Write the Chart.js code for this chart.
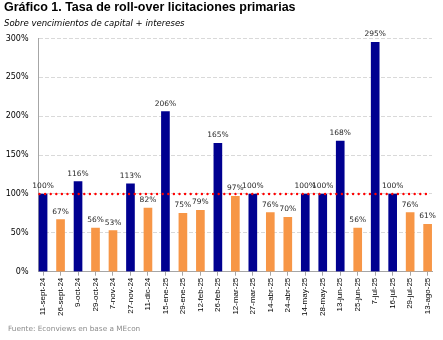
<!DOCTYPE html>
<html>
<head>
<meta charset="utf-8">
<script src="https://cdn.jsdelivr.net/npm/chart.js@4.4.1/dist/chart.umd.min.js"></script>
<style>
body{margin:0;background:#fff;}
#caja{width:443px;height:340px;position:relative;}
</style>
</head>
<body>
<div id="caja"><canvas id="rollover"></canvas></div>
<script>
// fechas de licitacion y tasa de roll-over (%)
var fechas = ["11-sept-24","26-sept-24","9-oct-24","29-oct-24","7-nov-24","27-nov-24","11-dic-24",
  "15-ene-25","29-ene-25","12-feb-25","26-feb-25","12-mar-25","27-mar-25","14-abr-25","24-abr-25",
  "14-may-25","28-may-25","13-jun-25","25-jun-25","7-jul-25","16-jul-25","29-jul-25","13-ago-25"];
var tasas = [100,67,116,56,53,113,82,206,75,79,165,97,100,76,70,100,100,168,56,295,100,76,61];
var ejeY = [0,50,100,150,200,250,300];
var umbral = 100;

var titulo = "Gráfico 1. Tasa de roll-over licitaciones primarias";
var subtitulo = "Sobre vencimientos de capital + intereses";
var fuente = "Fuente: Econviews en base a MEcon";

var azul = '#000090';
var naranja = '#f79646';
var colores = tasas.map(function(v){ return v >= umbral ? azul : naranja; });
var puntos = tasas.map(function(v, i){ return {x: i, y: v}; });

// titulo, subtitulo y fuente
var textos = {
  id: 'textos',
  afterDraw: function(chart){
    var ctx = chart.ctx;
    ctx.save();
    ctx.textAlign = 'left';
    ctx.textBaseline = 'alphabetic';
    ctx.fillStyle = '#000';
    ctx.font = 'bold 12.5px "Liberation Sans", Arial, sans-serif';
    ctx.fillText(titulo, 4, 11);
    ctx.font = 'italic 8.5px "DejaVu Sans", sans-serif';
    ctx.fillText(subtitulo, 4, 25.5);
    ctx.fillStyle = '#8c8c8c';
    ctx.font = '7.3px "DejaVu Sans", sans-serif';
    ctx.fillText(fuente, 8, 331);
    ctx.restore();
  }
};

// linea punteada roja en 100%
var linea100 = {
  id: 'linea100',
  afterDatasetsDraw: function(chart){
    var ctx = chart.ctx, x = chart.scales.x, y = chart.scales.y;
    var py = y.getPixelForValue(umbral);
    ctx.save();
    ctx.strokeStyle = '#ff0000';
    ctx.lineWidth = 2.4;
    ctx.lineCap = 'round';
    ctx.setLineDash([0, 5.6]);
    ctx.beginPath();
    ctx.moveTo(chart.chartArea.left + 1.5, py);
    ctx.lineTo(x.getPixelForValue(fechas.length - 1), py);
    ctx.stroke();
    ctx.restore();
  }
};

// valores arriba de cada barra
var etiquetas = {
  id: 'etiquetas',
  afterDatasetsDraw: function(chart){
    var ctx = chart.ctx;
    var meta = chart.getDatasetMeta(0);
    ctx.save();
    ctx.font = '7.5px "DejaVu Sans", sans-serif';
    ctx.fillStyle = '#262626';
    ctx.textAlign = 'center';
    ctx.textBaseline = 'alphabetic';
    meta.data.forEach(function(bar, i){
      ctx.fillText(tasas[i] + '%', bar.x, bar.y - 6);
    });
    ctx.restore();
  }
};

var ctx = document.getElementById('rollover').getContext('2d');
var grafico = new Chart(ctx, {
  type: 'bar',
  data: {
    datasets: [{
      data: puntos,
      backgroundColor: colores,
      borderWidth: 0,
      barThickness: 8
    }]
  },
  options: {
    responsive: true,
    maintainAspectRatio: false,
    animation: false,
    layout: { padding: { top: 38.5, left: 0, right: 11, bottom: 0 } },
    plugins: {
      legend: { display: false },
      tooltip: { enabled: false }
    },
    scales: {
      x: {
        type: 'linear',
        offset: false,
        min: -0.29,
        max: 22.25,
        afterFit: function(scale){ scale.height = 68.3; },
        grid: { offset: false, drawOnChartArea: false, drawTicks: true, tickLength: 4, color: '#a6a6a6' },
        border: { color: '#a6a6a6' },
        ticks: {
          stepSize: 1,
          maxTicksLimit: 30,
          includeBounds: false,
          autoSkip: false,
          minRotation: 90,
          maxRotation: 90,
          padding: 2,
          color: '#000',
          font: { family: '"Liberation Sans", Arial, sans-serif', size: 8 },
          callback: function(v){ return Number.isInteger(v) ? fechas[v] : ''; }
        }
      },
      y: {
        min: ejeY[0],
        max: ejeY[ejeY.length - 1],
        afterFit: function(scale){ scale.width = 38; },
        grid: {
          drawTicks: false,
          color: function(c){ return c.tick.value === 0 ? 'rgba(0,0,0,0)' : '#d9d9d9'; }
        },
        border: { color: '#a6a6a6', dash: [4, 2] },
        ticks: {
          stepSize: 50,
          padding: 9.5,
          color: '#000',
          font: { family: '"DejaVu Sans", sans-serif', size: 8 },
          callback: function(v){ return v + '%'; }
        }
      }
    }
  },
  plugins: [textos, linea100, etiquetas]
});
</script>
</body>
</html>
